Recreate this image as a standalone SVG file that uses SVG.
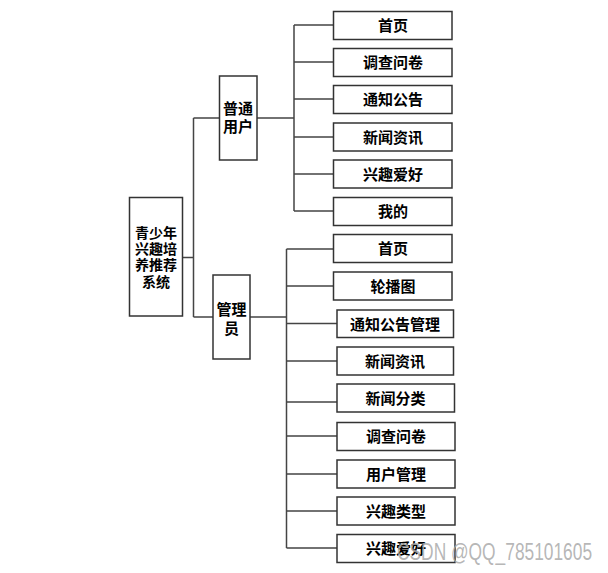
<svg xmlns="http://www.w3.org/2000/svg" width="608" height="573" viewBox="0 0 608 573">
<style>
.b{fill:#fff;stroke:#333;stroke-width:1.5}
.t{font-family:"Liberation Sans","Noto Sans CJK SC",sans-serif;font-size:15px;font-weight:bold;fill:#000;text-anchor:middle}
.c{fill:none;stroke:#444;stroke-width:1.5}
.w{font-family:"Liberation Sans",sans-serif;font-size:23px;fill:#aaa;fill-opacity:0.85}
</style>
<rect width="608" height="573" fill="#fff"/>
<g id="connectors">
<path class="c" d="M182,257.5H193.5M193.5,118V317M193.5,118H219.5M193.5,317H213"/>
<path class="c" d="M257,118H294M294,25V211M294,25H333M294,62H333M294,99H333M294,137H333M294,174H333M294,211H333"/>
<path class="c" d="M250,317H286.5M286.5,249V548M286.5,249H333M286.5,286H333M286.5,323.5H337M286.5,361H337M286.5,402H337M286.5,436H337M286.5,474H337M286.5,511H337M286.5,548H337"/>
</g>
<g id="root"><rect class="b" x="129.5" y="197.5" width="53" height="118.5"/>
<text class="t" style="font-size:14px" x="156" y="238">青少年</text>
<text class="t" style="font-size:14px" x="156" y="254">兴趣培</text>
<text class="t" style="font-size:14px" x="156" y="270">养推荐</text>
<text class="t" style="font-size:14px" x="156" y="287">系统</text></g>
<g id="user"><rect class="b" x="219.5" y="76" width="37.5" height="84"/>
<text class="t" x="238" y="113.5">普通</text><text class="t" x="238" y="132">用户</text></g>
<g id="admin"><rect class="b" x="213" y="275" width="37" height="84"/>
<text class="t" x="231.5" y="314.5">管理</text><text class="t" x="231.5" y="333.5">员</text></g>
<g id="u1"><rect class="b" x="333.5" y="11.5" width="118.5" height="28"/><text class="t" x="393" y="31">首页</text></g>
<g id="u2"><rect class="b" x="333.5" y="48.5" width="118.5" height="28"/><text class="t" x="393" y="68">调查问卷</text></g>
<g id="u3"><rect class="b" x="333.5" y="85.5" width="118.5" height="28"/><text class="t" x="393" y="105">通知公告</text></g>
<g id="u4"><rect class="b" x="333.5" y="123" width="118.5" height="28"/><text class="t" x="393" y="142.5">新闻资讯</text></g>
<g id="u5"><rect class="b" x="333.5" y="160" width="118.5" height="28"/><text class="t" x="393" y="179.5">兴趣爱好</text></g>
<g id="u6"><rect class="b" x="333.5" y="197.5" width="118.5" height="28"/><text class="t" x="393" y="217">我的</text></g>
<g id="a1"><rect class="b" x="333.5" y="234.5" width="118.5" height="28"/><text class="t" x="393" y="254">首页</text></g>
<g id="a2"><rect class="b" x="333.5" y="272" width="118.5" height="28"/><text class="t" x="393" y="291.5">轮播图</text></g>
<g id="a3"><rect class="b" x="337" y="310" width="116.5" height="27.5"/><text class="t" x="395" y="329.5">通知公告管理</text></g>
<g id="a4"><rect class="b" x="337" y="347" width="116.5" height="28"/><text class="t" x="395" y="366.5">新闻资讯</text></g>
<g id="a5"><rect class="b" x="337" y="384" width="117.5" height="28"/><text class="t" x="395.5" y="403.5">新闻分类</text></g>
<g id="a6"><rect class="b" x="337" y="422.5" width="118" height="28"/><text class="t" x="396" y="442">调查问卷</text></g>
<g id="a7"><rect class="b" x="337" y="460" width="118" height="28"/><text class="t" x="396" y="479.5">用户管理</text></g>
<g id="a8"><rect class="b" x="337" y="497" width="118" height="28"/><text class="t" x="396" y="516.5">兴趣类型</text></g>
<g id="a9"><rect class="b" x="337" y="534.5" width="118" height="28"/><text class="t" x="396" y="554">兴趣爱好</text></g>
<text class="w" transform="translate(397,560) scale(0.755,1)">CSDN @QQ_785101605</text>
</svg>
